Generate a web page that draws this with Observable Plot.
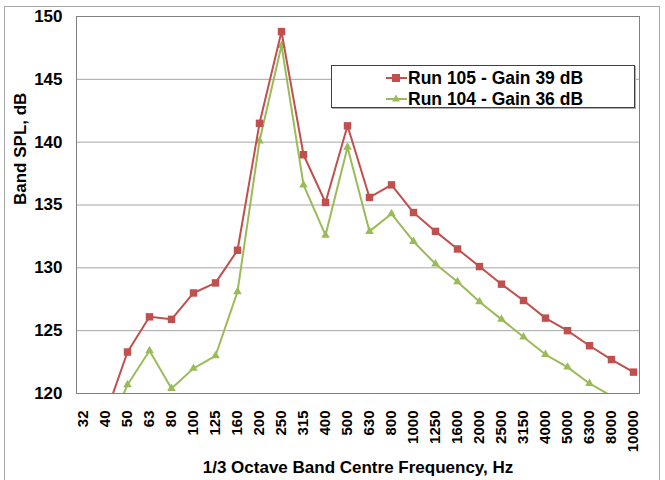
<!DOCTYPE html>
<html>
<head>
<meta charset="utf-8">
<script src="https://cdn.jsdelivr.net/npm/d3@7"></script>
<script src="https://cdn.jsdelivr.net/npm/@observablehq/plot@0.6"></script>
<style>
  body { margin: 0; background: #fff; font-family: "Liberation Sans", Arial, sans-serif; }
  #wrap { position: relative; width: 665px; height: 480px; overflow: hidden; }
  #outer { position: absolute; left: 4px; top: 6px; width: 654px; height: 480px; border: 1px solid #a6a6a6; pointer-events: none; }
  #legend { position: absolute; left: 331px; top: 65px; width: 302px; height: 41px; border: 1px solid #404040; box-shadow: 1px 1px 0 #b0b0b0; background: #fff; }
  #legend .row { position: absolute; left: 54px; height: 20px; display: flex; align-items: center; font-weight: bold; font-size: 17.5px; color: #000; }
  #legend svg { margin-right: 1px; }
</style>
</head>
<body>
<div id="wrap"></div>
<script>
const freqs = ["32","40","50","63","80","100","125","160","200","250","315","400","500","630","800","1000","1250","1600","2000","2500","3150","4000","5000","6300","8000","10000"];
const run105 = [null,118.3,123.3,126.1,125.9,128.0,128.8,131.4,141.5,148.8,139.0,135.2,141.3,135.6,136.6,134.4,132.9,131.5,130.1,128.7,127.4,126.0,125.0,123.8,122.7,121.7];
const run104 = [null,116.5,120.7,123.4,120.4,122.0,123.0,128.1,140.1,147.7,136.6,132.6,139.6,132.9,134.3,132.1,130.3,128.9,127.3,125.9,124.5,123.1,122.1,120.8,119.8,118.7];
const yTicks = [120,125,130,135,140,145,150];
const gridTicks = [125,130,135,140,145];
const seriesNames = ["Run 105 - Gain 39 dB","Run 104 - Gain 36 dB"];
const colors = ["#C0504D","#9BBB59"];
const xTitle = "1/3 Octave Band Centre Frequency, Hz";
const yTitle = "Band SPL, dB";

const d105 = freqs.map((f,i)=>({f, v: run105[i]})).filter(d=>d.v!=null);
const d104 = freqs.map((f,i)=>({f, v: run104[i]})).filter(d=>d.v!=null);

const font = "Liberation Sans, Arial, sans-serif";
const chart = Plot.plot({
  width: 665,
  height: 480,
  marginLeft: 76,
  marginRight: 26,
  marginTop: 16,
  marginBottom: 87,
  style: { fontFamily: font, background: "transparent", color: "#000", overflow: "visible" },
  x: { type: "point", domain: freqs, padding: 0, label: null },
  y: { domain: [120,150], ticks: yTicks, label: null },
  marks: [
    Plot.ruleY(gridTicks, { stroke: "#a6a6a6", strokeWidth: 1 }),
    Plot.frame({ stroke: "#808080", strokeWidth: 1 }),
    Plot.axisY({ ticks: yTicks, tickSize: 0, tickPadding: 14, fontSize: 17, fontWeight: "bold", label: null }),
    Plot.axisX({ tickSize: 0, tickRotate: -90, tickPadding: 17, fontSize: 15, fontWeight: "bold", label: null }),
    Plot.line(d104, { x: "f", y: "v", stroke: colors[1], strokeWidth: 2, clip: true }),
    Plot.dot(d104.filter(d=>d.v>=120), { x: "f", y: "v", symbol: "triangle", r: 3.2, fill: colors[1], stroke: "none", clip: true }),
    Plot.line(d105, { x: "f", y: "v", stroke: colors[0], strokeWidth: 2, clip: true }),
    Plot.dot(d105.filter(d=>d.v>=120), { x: "f", y: "v", symbol: "square", r: 4.2, fill: colors[0], stroke: "none", clip: true }),
    Plot.text([xTitle], { frameAnchor: "bottom", dy: 79, fontSize: 17, fontWeight: "bold", fill: "#000" }),
    Plot.text([yTitle], { frameAnchor: "left", dx: -56, rotate: -90, fontSize: 17, fontWeight: "bold", fill: "#000" })
  ]
});

const wrap = document.getElementById("wrap");
wrap.appendChild(chart);
const outer = document.createElement("div");
outer.id = "outer";
wrap.appendChild(outer);

const legend = document.createElement("div");
legend.id = "legend";
seriesNames.forEach((name, i) => {
  const row = document.createElement("div");
  row.className = "row";
  row.style.top = (i === 0 ? 2 : 23) + "px";
  const sym = i === 0
    ? `<rect x="6" y="6" width="8" height="8" fill="${colors[0]}"/>`
    : `<path d="M10,5.5 L14,12.5 L6,12.5 Z" fill="${colors[1]}"/>`;
  row.innerHTML = `<svg width="21" height="20"><line x1="0" y1="10" x2="21" y2="10" stroke="${colors[i]}" stroke-width="2"/>${sym}</svg><span>${name}</span>`;
  legend.appendChild(row);
});
wrap.appendChild(legend);
</script>
</body>
</html>
